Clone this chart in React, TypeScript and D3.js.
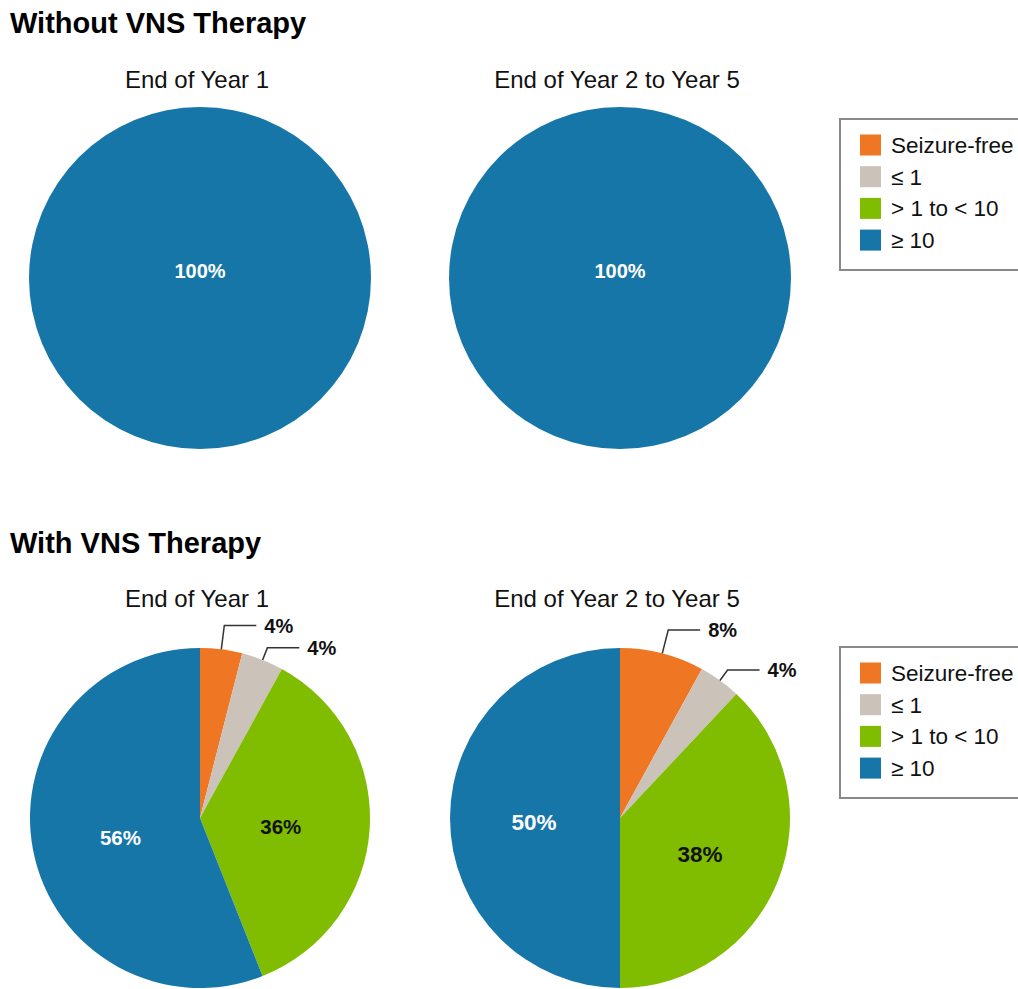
import * as d3 from "d3"

// Seizure frequency categories (seizures per month)
const categories = ["Seizure-free", "≤ 1", "> 1 to < 10", "≥ 10"]
const colors = ["#EF7622", "#CBC2B9", "#80BC00", "#1776A8"]

const sectionTitles = ["Without VNS Therapy", "With VNS Therapy"]
const chartTitles = ["End of Year 1", "End of Year 2 to Year 5"]

// percent of patients per category
const withoutYear1 = [0, 0, 0, 100]
const withoutYear2to5 = [0, 0, 0, 100]
const withYear1 = [4, 4, 36, 56]
const withYear2to5 = [8, 4, 38, 50]

const FONT = "'Liberation Sans', Arial, Helvetica, sans-serif"

type PieProps = {
  values: number[]
  title: string
  cx: number
  cy: number
  r: number
  titleY: number
  labelSize: number
  labelRadius: number
}

function Pie({ values, title, cx, cy, r, titleY, labelSize, labelRadius }: PieProps) {
  const pie = d3.pie<number>().sort(null).value((d) => d)
  const arcs = pie(values)
  const arc = d3.arc<d3.PieArcDatum<number>>().innerRadius(0).outerRadius(r)
  const labelArc = d3
    .arc<d3.PieArcDatum<number>>()
    .innerRadius(labelRadius)
    .outerRadius(labelRadius)

  // leader line elbows sit a bit further out for the first small slice
  const leaderOffsets = [24, 13]
  let smallIndex = 0

  return (
    <g>
      <text x={cx - 3} y={titleY} textAnchor="middle" fontSize={24} fill="#111">
        {title}
      </text>
      <g transform={`translate(${cx},${cy})`}>
        {arcs.map((a, i) =>
          a.value > 0 ? <path key={i} d={arc(a) || ""} fill={colors[i]} /> : null,
        )}
        {arcs.map((a, i) => {
          if (a.value <= 0) return null
          const label = `${a.value}%`
          if (a.value >= 100) {
            return (
              <text
                key={"l" + i}
                x={0}
                y={0}
                textAnchor="middle"
                fontSize={labelSize}
                fontWeight="bold"
                fill="#fff"
              >
                {label}
              </text>
            )
          }
          if (a.value < 10) {
            const mid = (a.startAngle + a.endAngle) / 2
            const off = leaderOffsets[smallIndex++] ?? 18
            const x0 = Math.sin(mid) * r
            const y0 = -Math.cos(mid) * r
            const x1 = Math.sin(mid) * (r + off)
            const y1 = -Math.cos(mid) * (r + off)
            const x2 = x1 + 32
            return (
              <g key={"l" + i}>
                <polyline
                  points={`${x0},${y0} ${x1},${y1} ${x2},${y1}`}
                  fill="none"
                  stroke="#333"
                  strokeWidth={1.5}
                />
                <text
                  x={x2 + 8}
                  y={y1 + 0.36 * 20}
                  fontSize={20}
                  fontWeight="bold"
                  fill="#111"
                >
                  {label}
                </text>
              </g>
            )
          }
          const [lx, ly] = labelArc.centroid(a)
          return (
            <text
              key={"l" + i}
              x={lx}
              y={ly + 0.36 * labelSize + 4}
              textAnchor="middle"
              fontSize={labelSize}
              fontWeight="bold"
              fill={i === 3 ? "#fff" : "#111"}
            >
              {label}
            </text>
          )
        })}
      </g>
    </g>
  )
}

function Legend({ x, y }: { x: number; y: number }) {
  const rowH = 31.7
  return (
    <g transform={`translate(${x},${y})`}>
      <rect x={0} y={0} width={220} height={151} fill="#fff" stroke="#888" strokeWidth={2} />
      {categories.map((c, i) => (
        <g key={c} transform={`translate(20,${26 + i * rowH})`}>
          <rect x={0} y={-10.5} width={21} height={21} fill={colors[i]} />
          <text x={31} y={8} fontSize={22.5} fill="#111">
            {c}
          </text>
        </g>
      ))}
    </g>
  )
}

export default function App() {
  const width = 1018
  const height = 989
  return (
    <svg
      width={width}
      height={height}
      style={{ position: "absolute", left: 0, top: 0, background: "#fff" }}
      fontFamily={FONT}
    >
      <rect width={width} height={height} fill="#fff" />

      <text x={10} y={33} fontSize={29} fontWeight="bold" fill="#000">
        {sectionTitles[0]}
      </text>
      <Pie values={withoutYear1} title={chartTitles[0]} cx={200} cy={278} r={171} titleY={88} labelSize={20} labelRadius={85} />
      <Pie values={withoutYear2to5} title={chartTitles[1]} cx={620} cy={278} r={171} titleY={88} labelSize={20} labelRadius={85} />
      <Legend x={840} y={119} />

      <text x={10} y={553} fontSize={29} fontWeight="bold" fill="#000">
        {sectionTitles[1]}
      </text>
      <Pie values={withYear1} title={chartTitles[0]} cx={200} cy={818} r={170} titleY={607} labelSize={20.5} labelRadius={81} />
      <Pie values={withYear2to5} title={chartTitles[1]} cx={620} cy={818} r={170} titleY={607} labelSize={22.5} labelRadius={86} />
      <Legend x={840} y={647} />
    </svg>
  )
}
